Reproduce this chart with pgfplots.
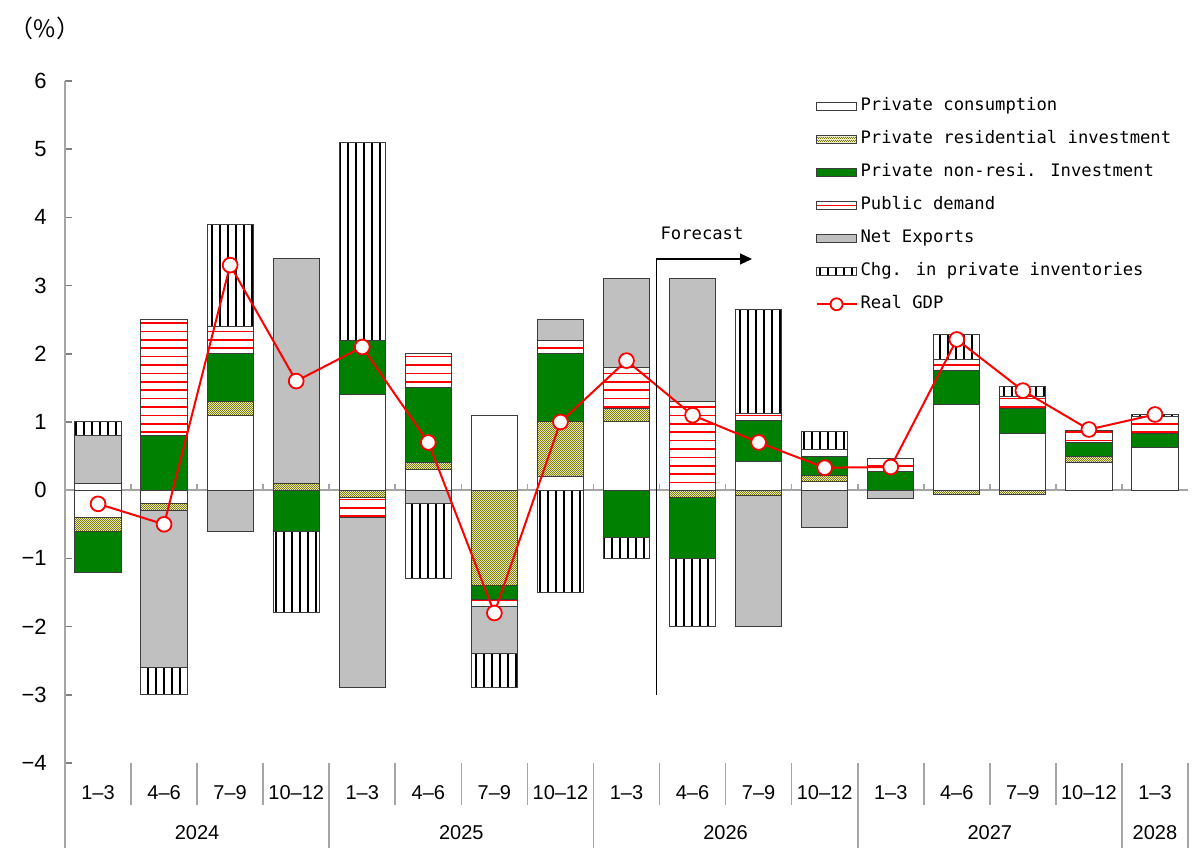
\documentclass[border=0pt]{standalone}
\usepackage{fontspec}
\setmainfont{Liberation Sans}
\newfontfamily\monof{DejaVu Sans Mono}
\newfontfamily\cjkf{Noto Sans CJK JP}
\usepackage{pgfplots}
\pgfplotsset{compat=1.18}
\usepackage{pgfplotstable}
\usetikzlibrary{patterns.meta,arrows.meta}

\definecolor{nongreen}{RGB}{0,128,0}
\definecolor{nxgray}{RGB}{192,192,192}
\definecolor{edge}{RGB}{60,60,60}
\definecolor{axgray}{RGB}{165,165,165}
\definecolor{tickgray}{RGB}{128,128,128}
\definecolor{chkdark}{RGB}{128,128,0}
\definecolor{chklight}{RGB}{245,245,220}

\tikzdeclarepattern{
  name=finechecker, type=uncolored,
  bottom left={(0pt,0pt)}, top right={(1.2pt,1.2pt)}, tile size={(1.2pt,1.2pt)},
  code={\fill (0pt,0pt) rectangle (0.6pt,0.6pt); \fill (0.6pt,0.6pt) rectangle (1.2pt,1.2pt);}
}
\tikzdeclarepattern{
  name=vlinesp, type=uncolored,
  bottom left={(-0.1pt,-0.1pt)}, top right={(4.1pt,4.1pt)}, tile size={(4pt,4pt)},
  code={\fill (1.45pt,-0.1pt) rectangle (2.55pt,4.1pt);}
}
\tikzdeclarepattern{
  name=hlinesp, type=uncolored,
  bottom left={(-0.1pt,-0.1pt)}, top right={(4.3pt,4.3pt)}, tile size={(4.2pt,4.2pt)},
  code={\fill (-0.1pt,1.72pt) rectangle (4.3pt,2.48pt);}
}
\tikzset{sepline/.style={draw=axgray, line width=0.8pt}}

% positive contributions
\pgfplotstableread{
x  C    R    N    P    X    I
0  0    0    0    0.1  0.7  0.2
1  0    0    0.8  1.7  0    0
2  1.1  0.2  0.7  0.4  0    1.5
3  0    0.1  0    0    3.3  0
4  1.4  0    0.8  0    0    2.9
5  0.3  0.1  1.1  0.5  0    0
6  1.1  0    0    0    0    0
7  0.2  0.8  1.0  0.2  0.3  0
8  1.0  0.2  0    0.6  1.3  0
9  0    0    0    1.3  1.8  0
10 0.42 0    0.6  0.11 0    1.52
11 0.13 0.08 0.29 0.09 0    0.27
12 0    0    0.28 0.18 0    0
13 1.25 0    0.51 0.16 0    0.37
14 0.83 0    0.37 0.18 0    0.14
15 0.41 0.08 0.21 0.18 0    0
16 0.62 0    0.21 0.25 0    0.03
}\postab

% negative contributions
\pgfplotstableread{
x  C    R     N    P    X     I
0  -0.4 -0.2  -0.6 0    0     0
1  -0.2 -0.1  0    0    -2.3  -0.4
2  0    0     0    0    -0.6  0
3  0    0     -0.6 0    0     -1.2
4  0    -0.1  0    -0.3 -2.5  0
5  0    0     0    0    -0.2  -1.1
6  0    -1.4  -0.2 -0.1 -0.7  -0.5
7  0    0     0    0    0     -1.5
8  0    0     -0.7 0    0     -0.3
9  0    -0.1  -0.9 0    0     -1.0
10 0    -0.08 0    0    -1.92 0
11 0    0     0    0    -0.54 0
12 0    0     0    0    -0.12 0
13 0    -0.07 0    0    0     0
14 0    -0.07 0    0    0     0
15 0    0     0    0    0     0
16 0    0     0    0    0     0
}\negtab

\pgfplotstableread{
x  G
0  -0.2
1  -0.5
2  3.3
3  1.6
4  2.1
5  0.7
6  -1.8
7  1.0
8  1.9
9  1.1
10 0.7
11 0.33
12 0.34
13 2.21
14 1.46
15 0.89
16 1.11
}\gdptab

\pgfplotsset{
  barbase/.style={draw=edge, line width=0.5pt,
    legend image code/.code={\draw[##1] (0pt,-2pt) rectangle (20pt,2pt);}},
  sC/.style={barbase, fill=white},
  sR/.style={barbase, fill=chklight, postaction={pattern=finechecker, pattern color=chkdark}},
  sN/.style={barbase, fill=nongreen},
  sP/.style={barbase, fill=white, postaction={pattern=hlinesp, pattern color=red}},
  sX/.style={barbase, fill=nxgray},
  sI/.style={barbase, fill=white, postaction={pattern=vlinesp, pattern color=black}},
  gdpstyle/.style={stack plots=false, sharp plot, red, line width=1pt,
    mark=*, mark size=3.7pt, mark options={fill=white, draw=red, line width=0.9pt},
    legend image code/.code={\draw[mark repeat=2, mark phase=2, ##1, mark size=3pt] plot coordinates {(0pt,0pt) (10pt,0pt) (20pt,0pt)};}},
  commonax/.style={
    scale only axis, width=561.5pt, height=341pt,
    at={(32.5pt,42.5pt)}, anchor=south west,
    xmin=-0.5, xmax=16.5, ymin=-4, ymax=6,
    ybar stacked, bar width=0.7, reverse stacked plots=false,
    clip=false,
  },
}

\begin{document}
\begin{tikzpicture}
\path[use as bounding box] (0,0) rectangle (600pt,424pt);

\node[font=\cjkf\fontsize{12}{14}\selectfont, inner sep=0pt] at (22.5pt,410pt) {（\%）};

% ---- axis A: frame, ticks, positive stacks
\begin{axis}[commonax,
  axis line style={draw=none},
  ytick={-4,...,6},
  yticklabels={−4,−3,−2,−1,0,1,2,3,4,5,6},
  ytick pos=left, tick align=inside, major tick length=3.5pt,
  ytick style={draw=tickgray, line width=0.8pt},
  yticklabel style={font=\fontsize{11}{13}\selectfont, anchor=east, inner sep=0pt, xshift=-9pt},
  xtick={0,...,16},
  xticklabels={1--3,4--6,7--9,10--12,1--3,4--6,7--9,10--12,1--3,4--6,7--9,10--12,1--3,4--6,7--9,10--12,1--3},
  xtick pos=bottom, xtick style={draw=none},
  xticklabel style={font=\fontsize{10}{12}\selectfont, anchor=center, inner sep=0pt, yshift=-15pt},
]
\draw[sepline] (axis cs:-0.5,0) -- (axis cs:16.5,0);
\pgfplotsinvokeforeach{0.5,1.5,2.5,3.5,4.5,5.5,6.5,7.5,8.5,9.5,10.5,11.5,12.5,13.5,14.5,15.5}{
  \draw[sepline] (axis cs:#1,0) -- ([yshift=3pt]axis cs:#1,0);
}
\draw[sepline] (axis cs:-0.5,6) -- ([yshift=-42.5pt]axis cs:-0.5,-4);
\pgfplotsinvokeforeach{0.5,1.5,2.5,4.5,5.5,6.5,8.5,9.5,10.5,12.5,13.5,14.5}{
  \draw[sepline] (axis cs:#1,-4) -- ([yshift=-21pt]axis cs:#1,-4);
}
\pgfplotsinvokeforeach{3.5,7.5,11.5,15.5,16.5}{
  \draw[sepline] (axis cs:#1,-4) -- ([yshift=-42.5pt]axis cs:#1,-4);
}
\addplot[sC] table[x=x,y=C]{\postab};
\addplot[sR] table[x=x,y=R]{\postab};
\addplot[sN] table[x=x,y=N]{\postab};
\addplot[sP] table[x=x,y=P]{\postab};
\addplot[sX] table[x=x,y=X]{\postab};
\addplot[sI] table[x=x,y=I]{\postab};
\node[font=\fontsize{10}{12}\selectfont, inner sep=0pt] at ([yshift=-34.75pt]axis cs:1.5,-4) {2024};
\node[font=\fontsize{10}{12}\selectfont, inner sep=0pt] at ([yshift=-34.75pt]axis cs:5.5,-4) {2025};
\node[font=\fontsize{10}{12}\selectfont, inner sep=0pt] at ([yshift=-34.75pt]axis cs:9.5,-4) {2026};
\node[font=\fontsize{10}{12}\selectfont, inner sep=0pt] at ([yshift=-34.75pt]axis cs:13.5,-4) {2027};
\node[font=\fontsize{10}{12}\selectfont, inner sep=0pt] at ([yshift=-34.75pt]axis cs:16,-4) {2028};
\end{axis}

% ---- axis B: negative stacks, GDP line, legend
\begin{axis}[commonax, hide axis,
  legend cell align=left,
  legend style={at={(0.668,0.976)}, anchor=north west, draw=none, fill=none,
    inner sep=0pt, row sep=8pt,
    font=\monof\fontsize{8.6}{10}\selectfont,
    nodes={inner ysep=0pt, inner xsep=1.5pt, text height=6.5pt, text depth=2pt}},
]
\addplot[sC] table[x=x,y=C]{\negtab}; \addlegendentry{Private consumption}
\addplot[sR] table[x=x,y=R]{\negtab}; \addlegendentry{Private residential investment}
\addplot[sN] table[x=x,y=N]{\negtab}; \addlegendentry{Private non-resi. Investment}
\addplot[sP] table[x=x,y=P]{\negtab}; \addlegendentry{Public demand}
\addplot[sX] table[x=x,y=X]{\negtab}; \addlegendentry{Net Exports}
\addplot[sI] table[x=x,y=I]{\negtab}; \addlegendentry{Chg. in private inventories}
\addplot[gdpstyle] table[x=x,y=G]{\gdptab}; \addlegendentry{Real GDP}

\draw[black, line width=0.6pt, -{Triangle[length=6pt,width=5.5pt]}]
  (axis cs:8.45,-3.0) -- (axis cs:8.45,3.39) -- (axis cs:9.9,3.39);
\node[font=\monof\fontsize{8.6}{10}\selectfont, anchor=base west, inner sep=0pt] at (axis cs:8.51,3.68) {Forecast};
\end{axis}
\end{tikzpicture}
\end{document}
